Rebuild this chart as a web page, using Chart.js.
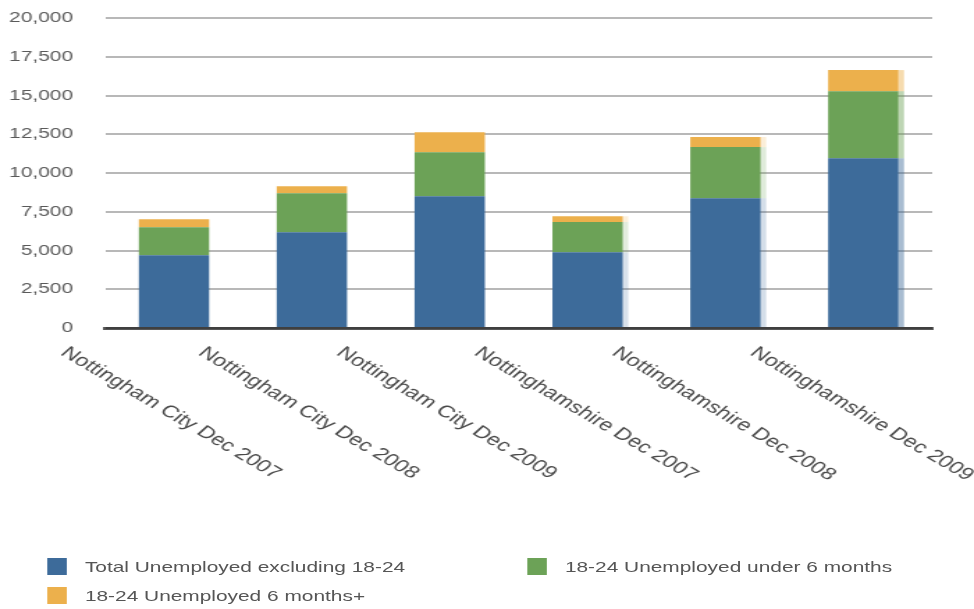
<!DOCTYPE html>
<html>
<head>
<meta charset="utf-8">
<script src="https://cdn.jsdelivr.net/npm/chart.js@4"></script>
<style>
  html, body { margin: 0; padding: 0; background: #fff; overflow: hidden; }
  #wrap {
    position: relative;
    width: 700px;
    height: 609px;
    transform: scaleX(1.3914);
    transform-origin: 0 0;
  }
  #unemploymentChart { position: absolute; left: 0; top: 0; }
  #legend {
    position: absolute;
    left: 0;
    top: 0;
    font-family: "Liberation Sans", Arial, sans-serif;
    font-size: 15px;
    color: #555;
  }
  .legend-item { position: absolute; white-space: nowrap; }
  .legend-box { position: absolute; width: 14px; height: 17px; }
  .legend-text { position: absolute; left: 27px; top: 0px; line-height: 17px; }
</style>
</head>
<body>
<div id="wrap">
  <canvas id="unemploymentChart" width="700" height="540"></canvas>
  <div id="legend"></div>
</div>
<script>
const areas = [
    'Nottingham City Dec 2007',
    'Nottingham City Dec 2008',
    'Nottingham City Dec 2009',
    'Nottinghamshire Dec 2007',
    'Nottinghamshire Dec 2008',
    'Nottinghamshire Dec 2009'
];

const totalExcluding1824 = [4690, 6170, 8500, 4880, 8370, 10950];
const under6Months = [1810, 2520, 2840, 1960, 3300, 4330];
const over6Months = [520, 450, 1290, 370, 650, 1360];

const yTicks = [0, 2500, 5000, 7500, 10000, 12500, 15000, 17500, 20000];

const seriesNames = [
    'Total Unemployed excluding 18-24',
    '18-24 Unemployed under 6 months',
    '18-24 Unemployed 6 months+'
];
const seriesColors = ['#3d6b9a', '#6ca257', '#ecb04c'];

// faint right-hand shading on some of the columns
const shadeAlpha = [0, 0, 0, 0.2, 0.22, 0.45];

const FONT = '"Liberation Sans", Arial, sans-serif';

// Category labels run down to the right from just left of each column
const slantedLabels = {
    id: 'slantedLabels',
    afterDraw(chart) {
        const ctx = chart.ctx;
        const xScale = chart.scales.x;
        const bottom = chart.chartArea.bottom;
        ctx.save();
        ctx.font = '17px ' + FONT;
        ctx.fillStyle = '#4a4a4a';
        ctx.textAlign = 'left';
        ctx.textBaseline = 'top';
        areas.forEach((label, i) => {
            const x = xScale.getPixelForValue(i) - 74;
            ctx.save();
            ctx.translate(x, bottom + 16);
            ctx.rotate(39 * Math.PI / 180);
            ctx.fillText(label, 0, 0);
            ctx.restore();
        });
        ctx.restore();
    }
};

const columnShade = {
    id: 'columnShade',
    afterDatasetsDraw(chart) {
        const ctx = chart.ctx;
        ctx.save();
        chart.data.datasets.forEach((ds, d) => {
            const meta = chart.getDatasetMeta(d);
            meta.data.forEach((bar, i) => {
                if (!shadeAlpha[i]) return;
                const right = bar.x + bar.width / 2;
                ctx.globalAlpha = shadeAlpha[i];
                ctx.fillStyle = ds.backgroundColor;
                ctx.fillRect(right, bar.y, 4, bar.base - bar.y);
            });
        });
        ctx.restore();
    }
};

const ctx = document.querySelector('#unemploymentChart').getContext('2d');

const datasets = [totalExcluding1824, under6Months, over6Months].map((values, k) => ({
    label: seriesNames[k],
    data: values,
    backgroundColor: seriesColors[k],
    borderWidth: 0,
    categoryPercentage: 0.51,
    barPercentage: 1
}));

new Chart(ctx, {
    type: 'bar',
    data: {
        labels: areas,
        datasets: datasets
    },
    options: {
        responsive: false,
        animation: false,
        devicePixelRatio: 1,
        layout: {
            padding: { left: 6, right: 30, top: 18, bottom: 212 }
        },
        plugins: {
            legend: { display: false },
            tooltip: { enabled: false }
        },
        scales: {
            x: {
                stacked: true,
                z: 1,
                grid: { display: false, drawTicks: false },
                ticks: { display: false },
                border: { display: true, color: 'rgba(0,0,0,0.66)', width: 3 }
            },
            y: {
                stacked: true,
                min: 0,
                max: 20000,
                afterBuildTicks(scale) {
                    scale.ticks = yTicks.map(v => ({ value: v }));
                },
                afterFit(scale) {
                    scale.width = 69.5;
                },
                grid: {
                    color: '#b8b8b8',
                    lineWidth: 2,
                    drawTicks: true,
                    tickLength: 23,
                    tickColor: 'rgba(0,0,0,0)'
                },
                border: { display: false },
                ticks: {
                    padding: 0,
                    color: '#5a5a5a',
                    font: { family: FONT, size: 15 },
                    callback: value => value.toLocaleString('en-US')
                }
            }
        }
    },
    plugins: [slantedLabels, columnShade]
});

// legend laid out in two columns below the chart
const legendSpots = [
    { left: 34, top: 558 },
    { left: 379, top: 558 },
    { left: 34, top: 587 }
];
const legend = document.querySelector('#legend');
seriesNames.forEach((name, k) => {
    const item = document.createElement('div');
    item.className = 'legend-item';
    item.style.left = legendSpots[k].left + 'px';
    item.style.top = legendSpots[k].top + 'px';
    const box = document.createElement('span');
    box.className = 'legend-box';
    box.style.background = seriesColors[k];
    const text = document.createElement('span');
    text.className = 'legend-text';
    text.textContent = name;
    item.appendChild(box);
    item.appendChild(text);
    legend.appendChild(item);
});
</script>
</body>
</html>
